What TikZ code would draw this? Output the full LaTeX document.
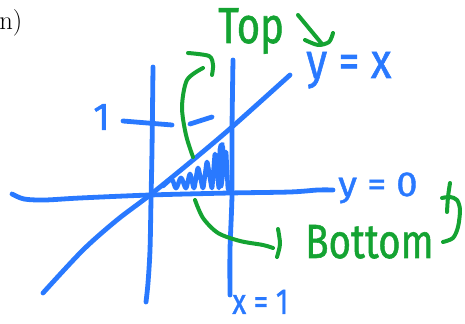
\documentclass[tikz,border=0pt]{standalone}
\usepackage{fontspec}
\newfontfamily\hand{Fira Sans}[FakeBold=1.2]
\definecolor{pen}{RGB}{41,121,255}
\definecolor{gpen}{RGB}{20,163,50}
\begin{document}
\begin{tikzpicture}[x=0.75pt,y=-0.75pt,
  bl/.style={draw=pen,line width=3.6pt,line cap=round,line join=round},
  gr/.style={draw=gpen,line width=3pt,line cap=round,line join=round},
  btxt/.style={text=pen,inner sep=0pt,anchor=base west},
  gtxt/.style={text=gpen,inner sep=0pt,anchor=base west}]
\useasboundingbox (0,0) rectangle (465,324);
% corner text
\node[inner sep=0pt,anchor=base west,font=\fontsize{20}{24}\selectfont] (lbl) at (-1,30) {n)};
% axes and lines
\draw[bl] plot[smooth] coordinates {(153,67) (152,150) (151,200) (150,250) (148,283) (146,302)};
\draw[bl] plot[smooth] coordinates {(233,60) (232,130) (232,195) (230,250) (230,295)};
\draw[bl] plot[smooth] coordinates {(12,194) (24,199) (45,200) (80,198) (150,195) (230,193) (290,192) (318,190) (333,190)};
\draw[bl] plot[smooth] coordinates {(43,293) (83,250) (117,220) (150,195) (193,160) (232,127) (290,75)};
% tick marks
\draw[bl] (123,121) -- (172,125);
\draw[bl] (190,124) -- (212,117);
% scribble shading
\draw[bl,line width=3.4pt,rounded corners=2.5pt] (163,186) -- (172,178) -- (176,190) -- (181,176) -- (186,190) -- (190,172) -- (194,190) -- (198,166) -- (203,190) -- (207,160) -- (212,190) -- (215,152) -- (219,190) -- (220,146) -- (223,144) -- (221,188) -- (226,150) -- (228,191) -- (231,193);
% green arrows
\draw[gr] plot[smooth] coordinates {(193,157) (186,135) (182,107) (187,80) (203,68)};
\draw[gr] plot[smooth] coordinates {(188,53) (209,56) (213,65) (212,75)};
\draw[gr] (298,15) -- (322,44);
\draw[gr] plot[smooth] coordinates {(305,40) (318,45) (329,42) (333,33)};
\draw[gr] plot[smooth] coordinates {(195,200) (203,218) (218,233) (240,241) (263,245) (273,248)};
\draw[gr] plot[smooth] coordinates {(278,229) (280,244) (277,257)};
\draw[gr] plot[smooth] coordinates {(443,242) (453,238) (458,227) (460,210) (457,200) (450,197) (442,198)};
\draw[gr] plot[smooth] coordinates {(450,183) (448,197) (447,212)};
% texts
\node[gtxt,font=\hand\fontsize{38}{38}\selectfont] (top) at (218,43) {\scalebox{0.79}[1]{Top}};
\node[btxt,font=\hand\fontsize{37}{37}\selectfont] (yx) at (306,78) {\scalebox{0.86}[1]{y = x}};
\node[btxt,font=\hand\fontsize{26}{26}\selectfont] (y0) at (338,196) {\scalebox{1.1}[1]{y = 0}};
\node[gtxt,font=\hand\fontsize{36}{36}\selectfont] (bot) at (305,258) {\scalebox{0.8}[1]{Bottom}};
\node[btxt,font=\hand\fontsize{27}{27}\selectfont] (x1) at (232,314) {\scalebox{0.8}[1]{x = 1}};
\node[btxt,font=\hand\fontsize{29}{29}\selectfont] (one) at (93,130) {1};
\end{tikzpicture}
\end{document}
